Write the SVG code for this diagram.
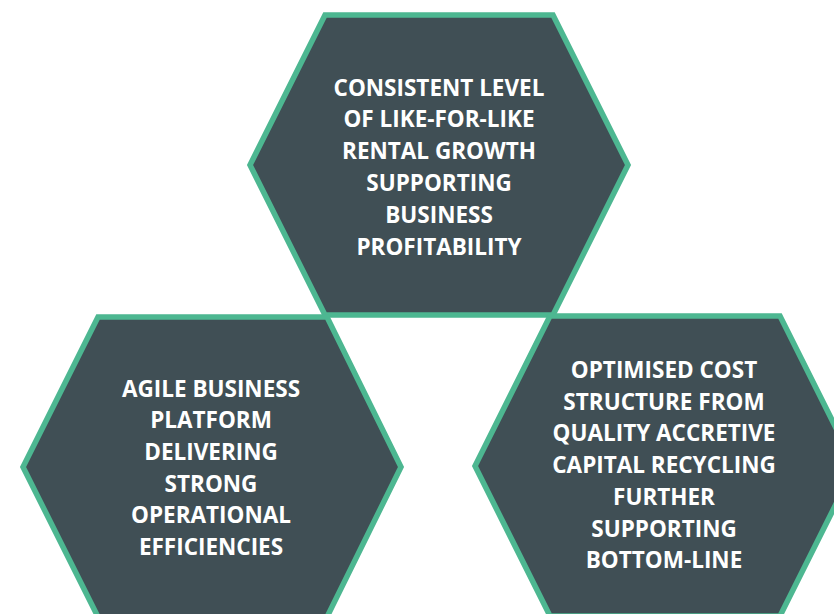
<svg xmlns="http://www.w3.org/2000/svg" width="834" height="614" viewBox="0 0 834 614">
<style>
.hex{fill:#404F55;stroke:#4DB791;stroke-width:5.5;stroke-linejoin:miter}
.t{font-family:"Open Sans","Liberation Sans",sans-serif;font-weight:bold;font-size:22.5px;fill:#FFFFFF;text-anchor:middle}
</style>
<rect width="834" height="614" fill="#FFFFFF"/>
<g id="node-top">
<polygon class="hex" points="325,15 553,15 628,165 553,315 325,315 250,165"/>
<text class="t" x="439" y="95.5">CONSISTENT LEVEL</text>
<text class="t" x="439" y="127.3">OF LIKE-FOR-LIKE</text>
<text class="t" x="439" y="159.1">RENTAL GROWTH</text>
<text class="t" x="439" y="190.9">SUPPORTING</text>
<text class="t" x="439" y="222.7">BUSINESS</text>
<text class="t" x="439" y="254.5">PROFITABILITY</text>
</g>
<g id="node-left">
<polygon class="hex" points="98,317 327,317 401,467 327,617 98,617 23,467"/>
<text class="t" x="211" y="396.5">AGILE BUSINESS</text>
<text class="t" x="211" y="428.2">PLATFORM</text>
<text class="t" x="211" y="459.9">DELIVERING</text>
<text class="t" x="211" y="491.6">STRONG</text>
<text class="t" x="211" y="523.3">OPERATIONAL</text>
<text class="t" x="211" y="555">EFFICIENCIES</text>
</g>
<g id="node-right">
<polygon class="hex" points="550,316 780,316 855,466 780,616 550,616 475,466"/>
<text class="t" x="664" y="378">OPTIMISED COST</text>
<text class="t" x="664" y="409.7">STRUCTURE FROM</text>
<text class="t" x="664" y="441.4">QUALITY ACCRETIVE</text>
<text class="t" x="664" y="473.1">CAPITAL RECYCLING</text>
<text class="t" x="664" y="504.8">FURTHER</text>
<text class="t" x="664" y="536.5">SUPPORTING</text>
<text class="t" x="664" y="568.2">BOTTOM-LINE</text>
</g>
<g id="connectors"></g>
</svg>
